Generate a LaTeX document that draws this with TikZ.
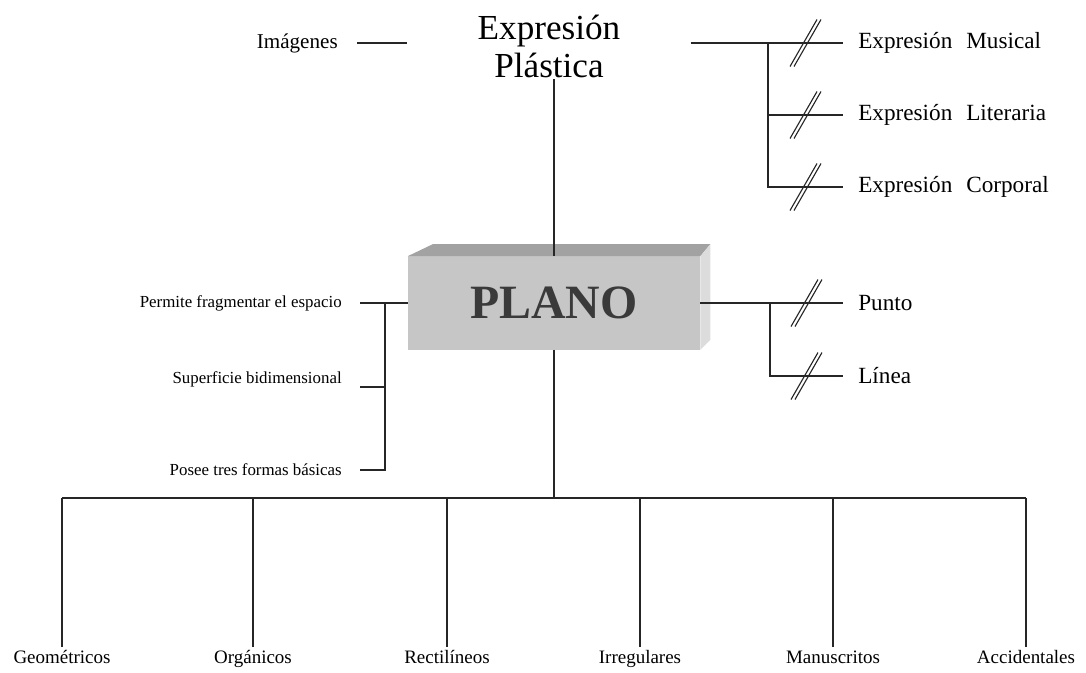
\documentclass[tikz,border=0pt]{standalone}
\usepackage{fontspec}
\setmainfont{Liberation Serif}
\usepackage{tikz}
\usetikzlibrary{positioning, calc}
\definecolor{CaraFrente}{HTML}{C6C6C6}
\definecolor{CaraArriba}{HTML}{A2A2A2}
\definecolor{CaraLado}{HTML}{DCDCDC}
\definecolor{TextoPlano}{HTML}{3A3A3A}

\begin{document}
\begin{tikzpicture}[
    x=0.025cm, y=-0.025cm,
    ln/.style={draw=black!85, line width=0.9pt},
    titulo/.style={font=\fontsize{25}{27}\selectfont, align=center,
                   inner xsep=1.75cm, inner ysep=1pt},
    plano/.style={fill=CaraFrente, text=TextoPlano, minimum width=7.3cm,
                  minimum height=2.325cm, inner sep=0pt,
                  font=\fontsize{34}{36}\selectfont\bfseries},
    izq/.style={anchor=east, inner xsep=0.45cm, inner ysep=0pt,
                font=\fontsize{12}{14}\selectfont},
    der/.style={anchor=west, inner xsep=0.375cm, inner ysep=0pt,
                font=\fontsize{16.5}{18}\selectfont},
    hoja/.style={anchor=north, inner xsep=0pt, inner ysep=0.15cm,
                 text height=1.6ex, text depth=0.5ex,
                 font=\fontsize{13.5}{15}\selectfont},
    dslash/.pic={
      \draw[ln, line width=0.8pt] (-15.5,23.5) -- (11.5,-23.5);
      \draw[ln, line width=0.8pt] (-11.5,23.5) -- (15.5,-23.5);
    },
  ]
    \useasboundingbox (0,0) rectangle (1086,672);
    % ---- centro ----
    \node[titulo] (expr) at (549,46) {Expresión\\Plástica};
    \node[plano] (plano) at (554,303) {PLANO};
    \fill[CaraArriba] (plano.north west) -- ++(25,-12) -- ([shift={(10,-12)}]plano.north east)
        -- (plano.north east) -- cycle;
    \fill[CaraLado] (plano.north east) -- ++(10,-12) -- ([shift={(10,-10)}]plano.south east)
        -- (plano.south east) -- cycle;
    \draw[ln] (plano.north |- expr.south) -- (plano.north);
    % ---- arriba ----
    \node[izq, inner xsep=0.475cm, font=\fontsize{15}{17}\selectfont] (imag) at (357,43) {Imágenes};
    \node[der] (musical)   at (843,43)  {Expresión\hspace{0.6em}Musical};
    \node[der] (literaria) at (843,115) {Expresión\hspace{0.6em}Literaria};
    \node[der] (corporal)  at (843,187) {Expresión\hspace{0.6em}Corporal};
    \coordinate (tbr) at (768,0);
    \draw[ln] (imag.east) -- (imag.east -| expr.west);
    \draw[ln] (expr.east |- musical.west) -- (musical.west);
    \draw[ln] (musical.west -| tbr) |- (corporal.west);
    \draw[ln] (literaria.west -| tbr) -- (literaria.west);
    \foreach \n in {musical, literaria, corporal}
      \pic at ($(\n.west -| tbr)!.5!(\n.west)$) {dslash};
    % ---- izquierda ----
    \node[izq] (perm)  at (360,303) {Permite fragmentar el espacio};
    \node[izq, anchor=south east] (sup) at (360,387) {Superficie bidimensional};
    \node[izq] (posee) at (360,470) {Posee tres formas básicas};
    \coordinate (lbr) at (385,0);
    \draw[ln] (perm.east) -- (plano.west);
    \draw[ln] (perm.east -| lbr) |- (posee.east);
    \draw[ln] (sup.south east) -- (sup.south east -| lbr);
    % ---- derecha ----
    \node[der] (punto) at (843,303) {Punto};
    \node[der] (linea) at (843,376) {Línea};
    \coordinate (rbr) at (770,0);
    \draw[ln] (plano.east) -- (punto.west);
    \draw[ln] (punto.west -| rbr) |- (linea.west);
    \foreach \n in {punto, linea}
      \pic at ($(\n.west -| rbr)!.5!(\n.west)$) {dslash};
    % ---- abajo ----
    \coordinate (hub) at (554,498);
    \draw[ln] (plano.south) -- (hub);
    \foreach \nombre/\x/\txt in {geo/62/Geométricos, org/253/Orgánicos,
        rect/447/Rectilíneos, irr/640/Irregulares, man/833/Manuscritos,
        acc/1026/Accidentales} {
      \node[hoja] (\nombre) at (\x,647) {\txt};
      \draw[ln] (\nombre.north) -- (\nombre.north |- hub);
    }
    \draw[ln] (geo.north |- hub) -- (acc.north |- hub);
  \end{tikzpicture}
\end{document}
